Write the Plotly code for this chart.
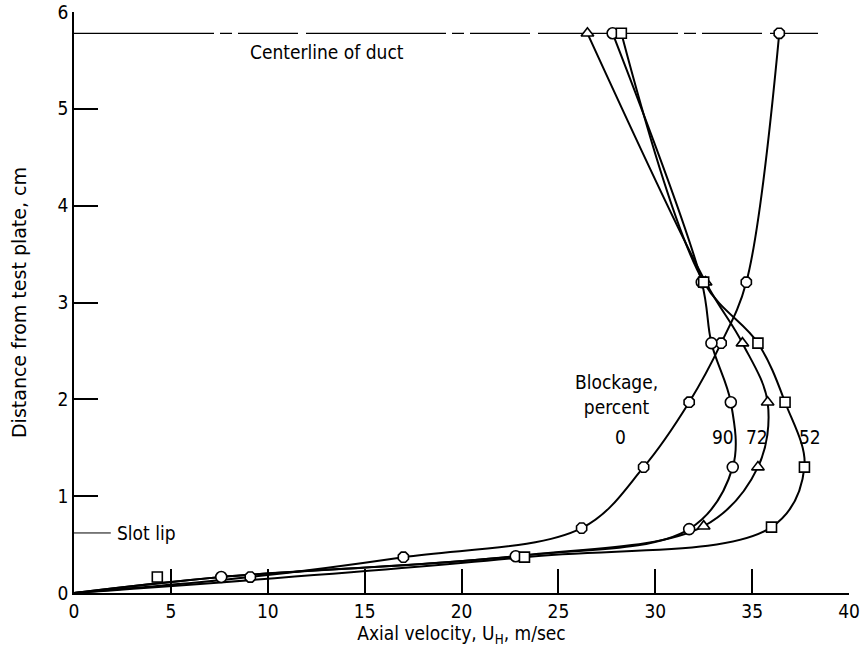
import plotly.graph_objects as go

# Measured points (Axial velocity m/s, distance cm)
x_b0 = [9.1, 17.0, 26.2, 29.4, 31.75, 33.4, 34.7, 36.4]
y_b0 = [0.165, 0.37, 0.67, 1.30, 1.97, 2.58, 3.21, 5.78]

x_b90 = [7.6, 22.8, 31.75, 34.0, 33.9, 32.9, 32.4, 27.8]
y_b90 = [0.165, 0.38, 0.66, 1.30, 1.97, 2.58, 3.21, 5.78]

x_b72 = [32.5, 35.3, 35.8, 34.5, 32.6, 26.5]
y_b72 = [0.69, 1.30, 1.97, 2.58, 3.21, 5.78]

x_b52 = [4.3, 23.25, 36.0, 37.7, 36.7, 35.3, 32.5, 28.25]
y_b52 = [0.165, 0.37, 0.68, 1.30, 1.97, 2.58, 3.21, 5.78]

centerline_y = 5.78
slot_lip_y = 0.62
x_ticks = [0, 5, 10, 15, 20, 25, 30, 35, 40]
y_ticks = [0, 1, 2, 3, 4, 5, 6]

FONT = "DejaVu Sans Condensed, Liberation Sans Narrow, Arial Narrow, sans-serif"
FONT_WIDE = "DejaVu Sans, Verdana, sans-serif"

# faired curves start at the origin; 72% shares the wall region of the 90% run
curves = [
    ([0] + x_b0, [0] + y_b0),
    ([0] + x_b90, [0] + y_b90),
    ([0] + x_b90[:2] + x_b72, [0] + y_b90[:2] + y_b72),
    ([0] + x_b52[1:], [0] + y_b52[1:]),
]

fig = go.Figure()

# centerline
fig.add_trace(go.Scatter(x=[0, 38.4], y=[centerline_y, centerline_y], mode="lines",
                         line=dict(color="black", width=1.3, dash="140px,6px,12px,6px,60px,8px"),
                         hoverinfo="skip", showlegend=False))
# slot lip
fig.add_trace(go.Scatter(x=[0, 1.9], y=[slot_lip_y, slot_lip_y], mode="lines",
                         line=dict(color="black", width=1), hoverinfo="skip", showlegend=False))

for cx, cy in curves:
    fig.add_trace(go.Scatter(x=cx, y=cy, mode="lines",
                             line=dict(color="black", width=2, shape="spline", smoothing=1.0),
                             hoverinfo="skip", showlegend=False))

marker_sets = [
    (x_b0, y_b0, "octagon", "0", 11),
    (x_b90, y_b90, "circle", "90", 11),
    (x_b72, y_b72, "triangle-up", "72", 11),
    (x_b52, y_b52, "square", "52", 10),
]
for mx, my, sym, name, sz in marker_sets:
    fig.add_trace(go.Scatter(x=mx, y=my, mode="markers", name=name,
                             marker=dict(symbol=sym, size=sz, color="white",
                                         line=dict(color="black", width=1.6)),
                             showlegend=False))

annos = [
    dict(x=9.0, y=5.59, text="Centerline of duct", xanchor="left"),
    dict(x=2.1, y=slot_lip_y, text="Slot lip", xanchor="left"),
    dict(x=28.0, y=2.05, text="Blockage,<br>percent", xanchor="center"),
    dict(x=28.2, y=1.61, text="0", xanchor="center"),
    dict(x=33.5, y=1.61, text="90", xanchor="center"),
    dict(x=35.25, y=1.61, text="72", xanchor="center"),
    dict(x=38.0, y=1.61, text="52", xanchor="center"),
]
for a in annos:
    fig.add_annotation(x=a["x"], y=a["y"], text=a["text"], xanchor=a["xanchor"],
                       yanchor="middle", showarrow=False,
                       font=dict(family=FONT, size=19, color="black"))

fig.update_layout(
    width=862, height=650,
    margin=dict(l=74, r=13, t=12, b=57),
    paper_bgcolor="white", plot_bgcolor="white",
    font=dict(family=FONT, size=19, color="black"),
    xaxis=dict(range=[0, 40], tickvals=x_ticks, ticks="inside", ticklen=24, tickwidth=1.5,
               tickcolor="black", showline=True, linecolor="black", linewidth=1.5,
               showgrid=False, zeroline=False, automargin=False,
               title=dict(text="Axial velocity, U<sub>H</sub>, m/sec", standoff=2,
                          font=dict(family=FONT, size=19))),
    yaxis=dict(range=[0, 6], tickvals=y_ticks, ticks="inside", ticklen=24, tickwidth=1.5,
               tickcolor="black", showline=True, linecolor="black", linewidth=1.5,
               showgrid=False, zeroline=False, automargin=False,
               title=dict(text="Distance from test plate, cm", standoff=26,
                          font=dict(family=FONT_WIDE, size=19))),
)

fig.write_html("out.html")
